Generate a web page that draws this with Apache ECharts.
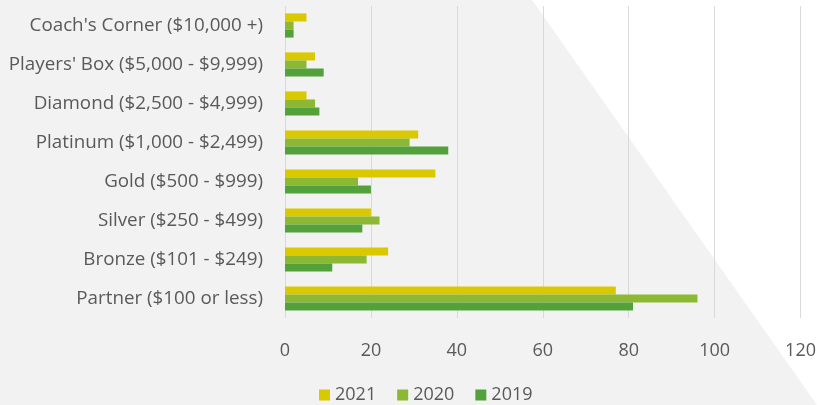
<!DOCTYPE html>
<html><head><meta charset="utf-8">
<script src="https://cdn.jsdelivr.net/npm/echarts@6/dist/echarts.min.js"></script>
<style>html,body{margin:0;padding:0;background:#fff}#c{width:819px;height:405px}</style>
</head><body><div id="c"></div>
<script>
const categories = ["Coach's Corner ($10,000 +)", "Players' Box ($5,000 - $9,999)", "Diamond ($2,500 - $4,999)", "Platinum ($1,000 - $2,499)", "Gold ($500 - $999)", "Silver ($250 - $499)", "Bronze ($101 - $249)", "Partner ($100 or less)"];
const seriesNames = ["2021", "2020", "2019"];
const values2021 = [5, 7, 5, 31, 35, 20, 24, 77];
const values2020 = [2, 5, 7, 29, 17, 22, 19, 96];
const values2019 = [2, 9, 8, 38, 20, 18, 11, 81];
const colors = ["#dac800", "#8cb833", "#53a13a"];

const chart = echarts.init(document.getElementById('c'), null, {renderer: 'canvas'});
const font = "'Open Sans', sans-serif";
chart.setOption({
  animation: false,
  backgroundColor: '#ffffff',
  graphic: [{
    type: 'polygon', z: -10, silent: true,
    shape: {points: [[0,0],[532,0],[817,405],[0,405]]},
    style: {fill: '#f2f2f2'}
  }],
  grid: {left: 285, right: 16, top: 6, bottom: 87, containLabel: false},
  legend: {
    data: seriesNames, top: 381, left: 314, itemWidth: 11, itemHeight: 11, itemGap: 21,
    icon: 'rect',
    textStyle: {fontFamily: font, fontSize: 18, color: '#595959'}
  },
  xAxis: {
    type: 'value', min: 0, max: 120, interval: 20,
    axisLine: {show: false}, axisTick: {show: false},
    splitLine: {lineStyle: {color: '#d9d9d9', width: 1}},
    axisLabel: {fontFamily: font, fontSize: 18, color: '#595959', margin: 24}
  },
  yAxis: {
    type: 'category', data: categories, inverse: true,
    axisLine: {show: false}, axisTick: {show: false},
    axisLabel: {fontFamily: font, fontSize: 18.8, color: '#595959', margin: 22}
  },
  series: [
    {name: seriesNames[0], type: 'bar', data: values2021, itemStyle: {color: colors[0]}, barGap: '0%', barCategoryGap: '38%'},
    {name: seriesNames[1], type: 'bar', data: values2020, itemStyle: {color: colors[1]}, barGap: '0%', barCategoryGap: '38%'},
    {name: seriesNames[2], type: 'bar', data: values2019, itemStyle: {color: colors[2]}, barGap: '0%', barCategoryGap: '38%'}
  ]
});
</script></body></html>
